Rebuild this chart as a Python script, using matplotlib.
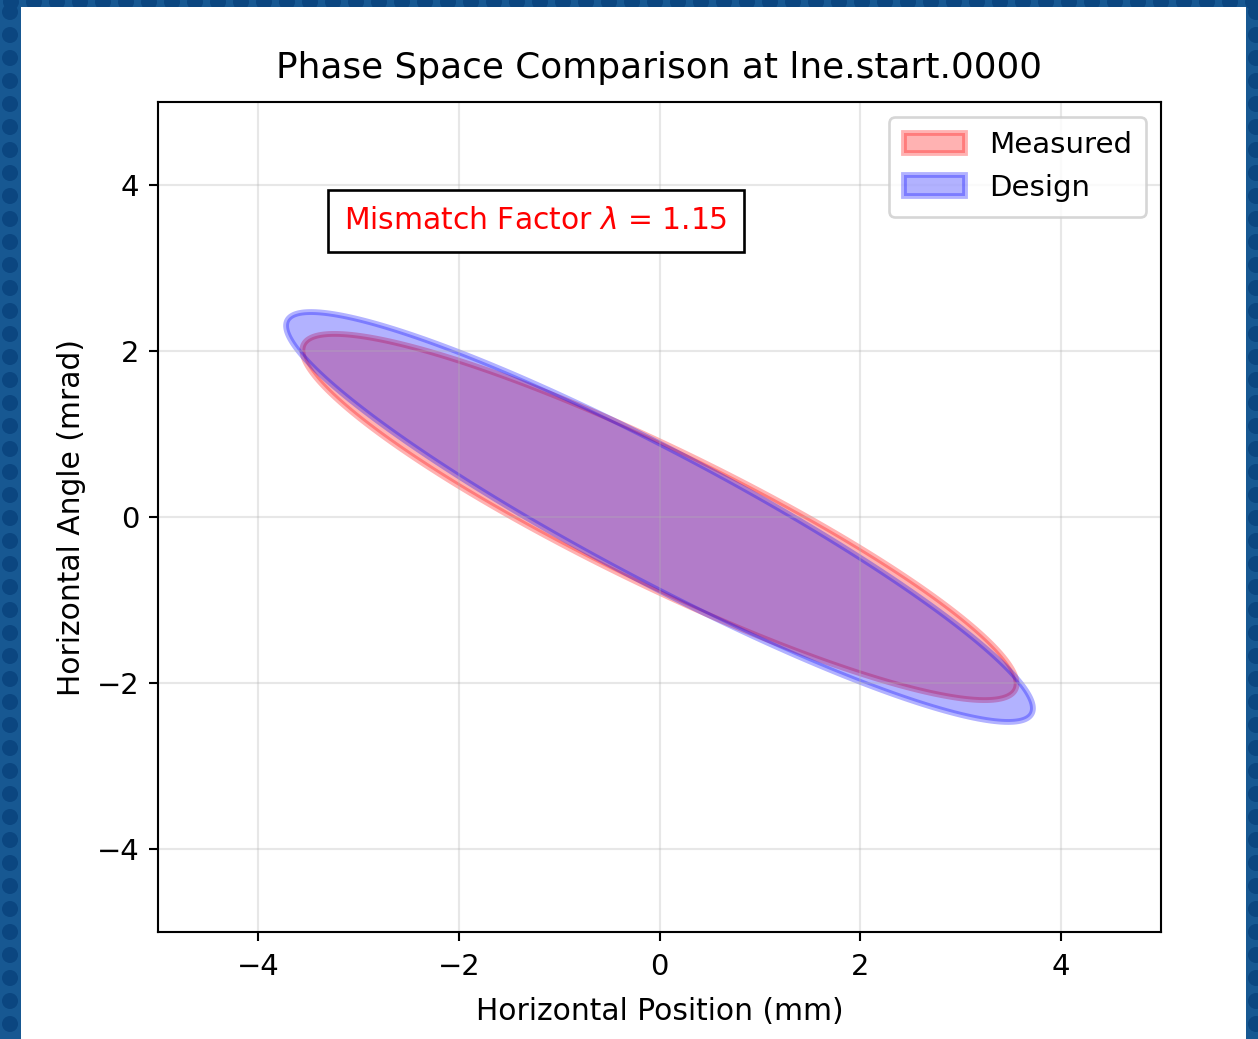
import numpy as np
import matplotlib
matplotlib.use('agg')
from matplotlib import pyplot as plt
from matplotlib.patches import Rectangle, Circle
from matplotlib.transforms import IdentityTransform

# Twiss parameters at the observation point (beta in m, alpha, emittance)
beam_labels = ['Measured', 'Design']
beam_colors = ['red', 'blue']
beta = [3.9, 4.2]
alpha = [2.2, 2.6]
emittance = [3.25, 3.3]

location = 'lne.start.0000'
mismatch = 1.15

ticks = [-4, -2, 0, 2, 4]


def twiss_ellipse(b, a, eps, n=400):
    """Phase space ellipse from Twiss parameters."""
    phi = np.linspace(0, 2 * np.pi, n)
    x = np.sqrt(eps * b) * np.cos(phi)
    xp = -np.sqrt(eps / b) * (a * np.cos(phi) + np.sin(phi))
    return x, xp


W, H = 1258, 1039
dpi = 190
fig = plt.figure(figsize=(W / dpi, H / dpi), dpi=dpi, facecolor='#175892')

# white page with the patterned blue frame around it (pixel coordinates)
pix = IdentityTransform()
dots = [(cx, H - 2) for cx in np.arange(11, W, 23)]
dots += [(cx0, H - cy) for cy in np.arange(12, H, 23) for cx0 in (10, W - 2)]
for cx, cy in dots:
    fig.patches.append(Circle((cx, cy), 8, transform=pix, facecolor='#0b4680',
                              edgecolor='none', zorder=-2))
fig.patches.append(Rectangle((21, 0), 1246 - 21, H - 7, transform=pix,
                             facecolor='white', edgecolor='none', zorder=-1))

ax = fig.add_axes([158 / W, 1 - 932 / H, (1161 - 158) / W, (932 - 102) / H])

for lab, col, b, a, eps in zip(beam_labels, beam_colors, beta, alpha, emittance):
    x, xp = twiss_ellipse(b, a, eps)
    ax.fill(x, xp, color=col, alpha=0.3, linewidth=2.2, label=lab)

ax.set_xlim(-5, 5)
ax.set_ylim(-5, 5)
ax.set_xticks(ticks)
ax.set_yticks(ticks)
ax.tick_params(labelsize=11)
ax.tick_params(axis='x', pad=4.5)
ax.grid(True, alpha=0.3)
ax.set_xlabel('Horizontal Position (mm)', fontsize=11.3, labelpad=6)
ax.set_ylabel('Horizontal Angle (mrad)', fontsize=11.3)
ax.set_title(f'Phase Space Comparison at {location}', fontsize=13.6, pad=9)
ax.legend(loc='upper right', fontsize=11.1, borderpad=0.5, handlelength=2.1)
ax.text(0.377, 0.857, f'Mismatch Factor $\\lambda$ = {mismatch:.2f}', transform=ax.transAxes,
        ha='center', va='center', color='red', fontsize=11.3,
        bbox=dict(boxstyle='square,pad=0.55', facecolor='white', edgecolor='black'))

fig.savefig('out.png', dpi=dpi, facecolor=fig.get_facecolor())
